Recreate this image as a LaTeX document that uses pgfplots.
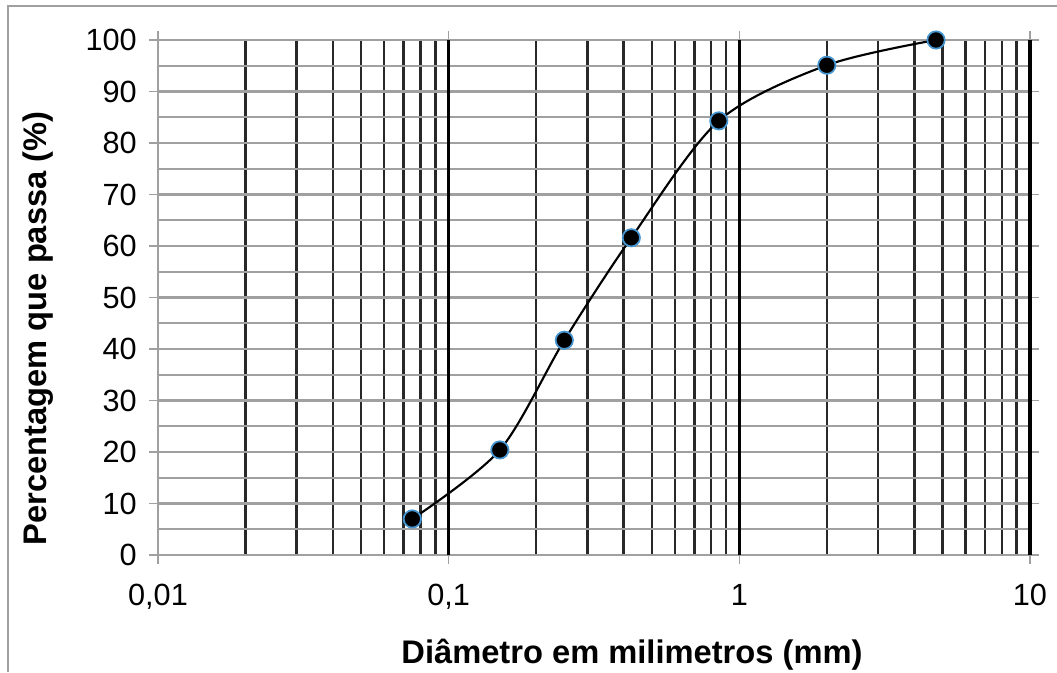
\documentclass[border=0pt]{standalone}
\usepackage{fontspec}
\setmainfont{Liberation Sans}
\usepackage{pgfplots}
\pgfplotsset{compat=1.18}

\definecolor{hgrid}{RGB}{160,160,160}
\definecolor{vgrid}{RGB}{40,40,40}
\definecolor{glow}{RGB}{70,150,210}

\begin{document}
\begin{tikzpicture}
% picture area: 1057 x 672 px at 0.75pt per px
\useasboundingbox (0,0) rectangle (792.75pt,504pt);
% chart border (left and top)
\draw[hgrid, line width=1.5pt] (6pt,0) -- (6pt,499.5pt) -- (792.75pt,499.5pt);

\begin{axis}[
    at={(118.5pt,87.75pt)}, anchor=south west,
    scale only axis,
    width=654pt, height=386.25pt,
    xmode=log,
    xmin=0.01, xmax=10,
    ymin=0, ymax=100,
    xtick={0.01,0.1,1,10},
    xticklabels={{0,01},{0,1},1,10},
    ytick={0,10,...,100},
    minor y tick num=1,
    tick align=outside,
    major tick length=6.5pt,
    minor tick length=0pt,
    tick style={hgrid, line width=1.2pt},
    axis line style={hgrid, line width=1.5pt},
    xminorgrids=true,
    ymajorgrids=true, yminorgrids=true,
    minor x grid style={vgrid, line width=1.9pt},
    major y grid style={hgrid, line width=1.7pt},
    minor y grid style={hgrid, line width=1.7pt},
    extra x ticks={0.1,1,10},
    extra x tick labels={},
    extra x tick style={xmajorgrids=true, major grid style={black, line width=2.6pt}},
    /pgf/number format/assume math mode=true,
    tick label style={font=\fontsize{23}{27}\selectfont, black},
    xticklabel style={yshift=-12pt},
    yticklabel style={xshift=-6pt},
    xlabel={Diâmetro em milimetros (mm)},
    ylabel={Percentagem que passa (\%)},
    label style={font=\bfseries\fontsize{24.5}{29}\selectfont},
    xlabel style={at={(rel axis cs:0.5436,0)}, anchor=center, yshift=-75pt},
    ylabel style={at={(rel axis cs:0,0.44)}, anchor=center, rotate=0, yshift=90pt},
    clip=false,
]
% granulometric curve
\addplot[black, line width=1.6pt, smooth, tension=0.5,
    mark=*, mark size=6.5pt,
    mark options={fill=black, draw=glow, line width=1.3pt}] coordinates {
    (0.075, 7.0)
    (0.15, 20.4)
    (0.25, 41.7)
    (0.425, 61.6)
    (0.85, 84.3)
    (2.0, 95.1)
    (4.75, 100)
};
\end{axis}
\end{tikzpicture}
\end{document}
